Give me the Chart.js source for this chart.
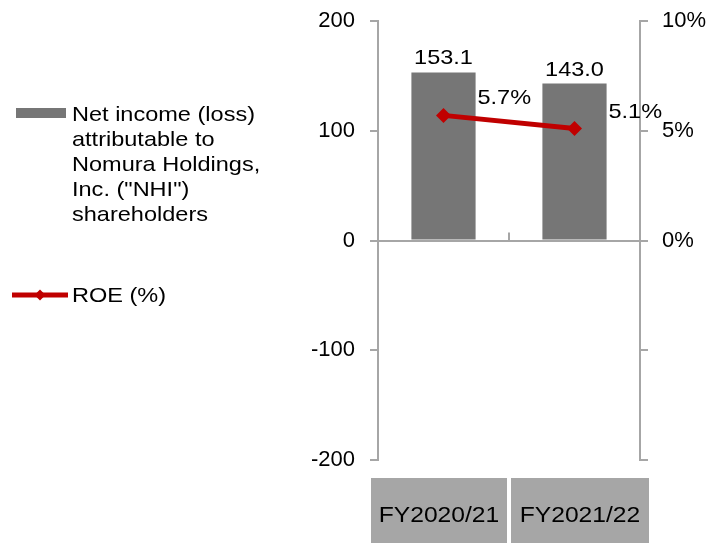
<!DOCTYPE html>
<html>
<head>
<meta charset="utf-8">
<script src="https://cdn.jsdelivr.net/npm/chart.js"></script>
<style>
body{margin:0;background:#fff}
canvas{display:block}
</style>
</head>
<body>
<canvas id="chart" width="709" height="543"></canvas>
<script>
const categories=["FY2020/21","FY2021/22"];
const netIncome=[153.1,143.0];
const roe=[5.7,5.1];
const incomeLabel='Net income (loss) attributable to Nomura Holdings, Inc. ("NHI") shareholders';
const roeLabel="ROE (%)";
const leftTicks={min:-200,max:200,step:100};
const rightTicks={min:-10,max:10,step:5};

const FAMILY='"Liberation Sans", Arial, sans-serif';
const SX=1.12; // text in the picture is a bit wide
const AXIS="#a6a6a6";

function put(ctx,s,x,y,align,size){
  ctx.save();
  ctx.font=size+"px "+FAMILY;
  ctx.fillStyle="#000";
  ctx.textAlign=align;
  ctx.textBaseline="alphabetic";
  ctx.translate(x,y);
  ctx.scale(SX,1);
  ctx.fillText(s,0,0);
  ctx.restore();
}

function wrap(ctx,s,max,size){
  ctx.save();
  ctx.font=size+"px "+FAMILY;
  const out=[];let line="";
  s.split(" ").forEach(w=>{
    const t=line?line+" "+w:w;
    if(line&&ctx.measureText(t).width*SX>max){out.push(line);line=w}
    else line=t;
  });
  if(line)out.push(line);
  ctx.restore();
  return out;
}

// keep the plot box where the picture has it
function fitY(width){
  return s=>{s.width=width;s.paddingTop=0;s.paddingBottom=0};
}

const extras={
  id:"extras",
  afterDatasetsDraw(chart){
    const ctx=chart.ctx,x=chart.scales.x,y=chart.scales.y;
    const mid=(x.getPixelForValue(0)+x.getPixelForValue(1))/2;
    const y0=y.getPixelForValue(0);

    // small divider tick on the zero line
    ctx.save();
    ctx.strokeStyle=AXIS;ctx.lineWidth=2;
    ctx.beginPath();ctx.moveTo(mid,y0-8);ctx.lineTo(mid,y0);ctx.stroke();
    ctx.restore();

    // value labels
    chart.getDatasetMeta(0).data.forEach((b,i)=>put(ctx,netIncome[i].toFixed(1),b.x,b.y-8,"center",21));
    chart.getDatasetMeta(1).data.forEach((p,i)=>put(ctx,roe[i].toFixed(1)+"%",p.x+34,p.y-11,"left",21));

    // category boxes under the plot
    const top=y.bottom+18;
    categories.forEach((c,i)=>{
      const l=i==0?x.left-7:mid+2;
      const r=i==0?mid-2:x.right+9;
      ctx.fillStyle="#a6a6a6";
      ctx.fillRect(l,top,r-l,chart.height-top);
      put(ctx,c,(l+r)/2,top+44,"center",22);
    });

    // legend on the left
    const ds=chart.data.datasets;
    ctx.fillStyle=ds[0].backgroundColor;
    ctx.fillRect(16,108,50,10);
    wrap(ctx,ds[0].label,200,21).forEach((t,i)=>put(ctx,t,72,121+i*25,"left",21));

    ctx.save();
    ctx.strokeStyle=ds[1].borderColor;ctx.lineWidth=5;
    ctx.beginPath();ctx.moveTo(12,295);ctx.lineTo(68,295);ctx.stroke();
    ctx.fillStyle=ds[1].borderColor;
    ctx.beginPath();ctx.moveTo(40,289.5);ctx.lineTo(45.5,295);ctx.lineTo(40,300.5);ctx.lineTo(34.5,295);ctx.closePath();ctx.fill();
    ctx.restore();
    put(ctx,ds[1].label,72,302,"left",21);
  }
};

const tickFont={family:FAMILY,size:22};

new Chart(document.getElementById("chart"),{
  type:"bar",
  data:{
    labels:categories,
    datasets:[{
      type:"bar",
      label:incomeLabel,
      data:netIncome,
      backgroundColor:"#767676",
      barPercentage:0.49,
      categoryPercentage:1,
      yAxisID:"y",
      order:2
    },{
      type:"line",
      label:roeLabel,
      data:roe,
      borderColor:"#c00000",
      backgroundColor:"#c00000",
      borderWidth:5,
      pointStyle:"rectRot",
      pointRadius:7.5,
      pointBorderWidth:0,
      pointBackgroundColor:"#c00000",
      yAxisID:"y1",
      order:1
    }]
  },
  options:{
    responsive:false,
    animation:false,
    layout:{padding:{top:21,bottom:83,left:0,right:0}},
    plugins:{legend:{display:false},tooltip:{enabled:false}},
    scales:{
      x:{
        ticks:{display:false},
        grid:{display:false},
        border:{display:false},
        afterFit:s=>{s.height=0}
      },
      y:{
        position:"left",
        min:leftTicks.min,max:leftTicks.max,
        ticks:{stepSize:leftTicks.step,font:tickFont,color:"#000",padding:15},
        grid:{color:c=>c.tick.value===0?AXIS:"rgba(0,0,0,0)",tickColor:AXIS,lineWidth:2,tickLength:8},
        border:{color:AXIS,width:2},
        afterFit:fitY(378)
      },
      y1:{
        position:"right",
        min:rightTicks.min,max:rightTicks.max,
        ticks:{stepSize:rightTicks.step,font:tickFont,color:"#000",padding:14,callback:v=>v>=0?v+"%":""},
        grid:{drawOnChartArea:false,tickColor:AXIS,lineWidth:2,tickLength:8},
        border:{color:AXIS,width:2},
        afterFit:fitY(69)
      }
    }
  },
  plugins:[extras]
});
</script>
</body>
</html>
